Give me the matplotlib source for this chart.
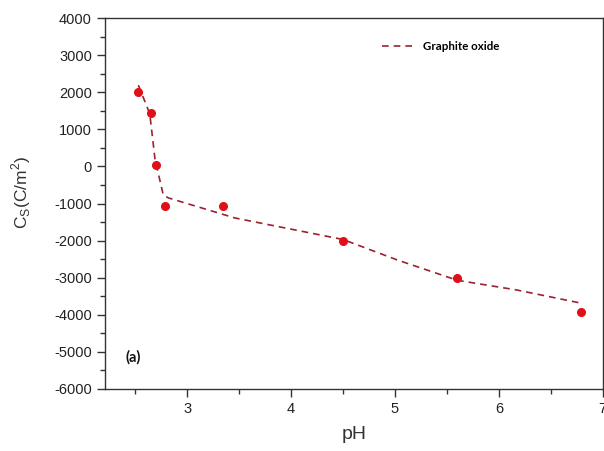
import matplotlib
matplotlib.use("Agg")
import matplotlib.pyplot as plt
from matplotlib.ticker import MultipleLocator

ph = [2.53, 2.65, 2.70, 2.79, 3.34, 4.50, 5.60, 6.79]
cs = [2005, 1440, 40, -1060, -1060, -2010, -3010, -3920]

fit_ph = [2.53, 2.64, 2.69, 2.77, 2.82, 3.46, 4.50, 5.02, 5.60, 6.17, 6.78]
fit_cs = [2190, 1420, 200, -770, -850, -1390, -1970, -2520, -3070, -3330, -3680]

plt.rcParams['font.family'] = ['Liberation Sans', 'DejaVu Sans']
plt.rcParams['axes.unicode_minus'] = False

fig = plt.figure(figsize=(6.04, 4.51), dpi=100)
ax = fig.add_axes([0.174, 0.1375, 0.824, 0.8225])

ax.plot(fit_ph, fit_cs, linestyle=(0, (4, 3)), color='#9a2230', lw=1.2,
        label='Graphite oxide')
ax.plot(ph, cs, 'o', color='#e01019', ms=5.5, mec='#e01019', zorder=3)

ax.set_xlim(2.21, 7.0)
ax.set_ylim(-6000, 4000)
ax.xaxis.set_major_locator(MultipleLocator(1))
ax.xaxis.set_minor_locator(MultipleLocator(0.5))
ax.yaxis.set_major_locator(MultipleLocator(1000))
ax.yaxis.set_minor_locator(MultipleLocator(500))
ax.tick_params(which='major', direction='out', length=6, width=1, labelsize=10.5,
               top=False, right=False, color='#333333', labelcolor='#222222')
ax.tick_params(which='minor', direction='out', length=3.5, width=1,
               top=False, right=False, color='#333333')
for s in ax.spines.values():
    s.set_linewidth(1.0)
    s.set_color('#333333')

ax.set_xlabel('pH', fontsize=14, color='#333333', labelpad=7)
ax.set_ylabel(r'C$_\mathregular{S}$(C/m$^\mathregular{2}$)', fontsize=12.5,
              color='#333333')
ax.yaxis.set_label_coords(-0.145, 0.53)

leg = ax.legend(loc='upper left', bbox_to_anchor=(0.535, 0.965), frameon=False,
                handlelength=3.0, handletextpad=0.6,
                prop={'family': ['Lato', 'DejaVu Sans'], 'weight': 'bold', 'size': 8.3})

ax.text(0.04, 0.073, '(a)', transform=ax.transAxes, fontsize=10.5,
        fontweight='bold', family=['Lato', 'DejaVu Sans'], color='#111111')

fig.savefig('out.png', dpi=100)
